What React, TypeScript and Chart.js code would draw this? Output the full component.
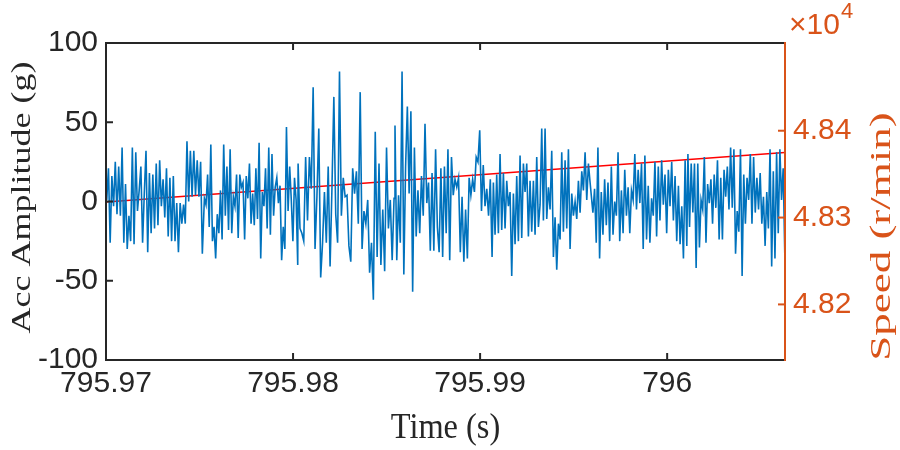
import React, { useEffect, useRef } from "react";
import { Chart, registerables } from "chart.js";

Chart.register(...registerables);

// ---- data ----
// time span covered by each run of samples (s)
const segStart = [795.97004, 795.97526, 795.98027, 795.98545, 795.99071, 795.99603, 796.00111];
const segEnd = [795.97515, 795.98025, 795.9854, 795.99064, 795.99588, 796.00105, 796.00629];

// acceleration amplitude (g), one list per run
const accSeg1 = [1, 21, -26, 16, -3, 25, -8, 22, -9, 34, -26, 11, -30, -9, -25, 34, -27, 31, -6, 7, 22, -26, 5, 32, -32, 18, -20, 17, -17, 24, -15, 26, -3, 14, -10, 21, -22, 15, -25, 16, -25, -1, -32, -1, -14, -2, -14, 38, 0, 32, 3, 32, 4, 26, 3, 25, -33];
const accSeg2 = [2, -2, 17, -16, 36, -25, -16, -36, -8, -20, 7, -24, 36, -9, 22, -18, 33, -20, 3, -3, 17, -23, 17, 9, 12, -24, 16, 2, 24, -14, 5, -15, 21, -11, 37, -36, 6, -3, 21, -17, 34, -21, 30, -9, 9, 15, -1, 10, -37, -16, -30, 47, -6, 22, 1, -25, 15, 1, -40];
const accSeg3 = [24, -17, -20, -25, 28, -12, 28, 8, 72, -30, 3, 46, -48, -26, 6, -26, 22, -41, 9, 66, -8, -26, 82, -9, 15, 3, 4, -28, -38, 21, 5, 19, -14, 69, -30, -6, -14, 1, -45, -26, -62, 44, -35, 24, -40, -5, -44, 34, -17, 1, -37, 2];
const accSeg4 = [48, -37, 4, -26, 82, -46, 22, 60, 5, 57, -57, 34, -22, 7, -20, 16, -9, 49, -1, 12, -31, 18, -31, 33, -16, -32, 21, -35, 22, -20, 33, -37, 28, 4, 14, 9, 15, -32, 3, -38, -5, -36, 15, 4, 14, 6, 28, 25, 45, -6, 23, -3, 8, -9, 14, -35];
const accSeg5 = [12, -21, 17, -20, 30, -18, 18, -17, 13, -3, 6, -47, 5, -27, 16, -25, 29, -23, 24, 6, 24, -22, 13, -19, 13, -21, 28, -16, -2, 46, -12, 46, -11, 9, -5, 32, -35, -10, -43, -14, -24, 31, -19, 26, -17, 33, -30, 5, -9, 0, -11, 13, -7, 19, 7, 31, 1, 24, 12];
const accSeg6 = [-7, 8, -26, 34, -36, 6, -21, 14, -15, 12, -25, 22, -21, 0, -9, 31, -25, 7, -20, 20, -9, 9, -20, 7, 1, 30, -5, 20, -1, 24, -30, 29, -24, 10, -26, 2, -9, 25, -22, 22, -12, 26, -2, 17, -20, 20, -3, 25, -12, 16, -25, 10, -27, -3, -36, 26, -28];
const accSeg7 = [30, -16, 24, -7, 24, -42, 24, -29, 1, -5, 28, -26, 11, -1, 14, -14, 17, -4, 26, -24, 15, -24, 20, 3, 22, -5, 34, -4, 33, -33, -6, -19, 33, -47, 17, -14, 15, 1, 30, -14, 28, -7, 15, -5, 18, -14, 3, -28, 6, -17, 33, -41, 19, -36, 31, -20, 33, 1, 21, -34];

// rotational speed (r/min)
const speedTimes = [795.97, 796.0063];
const speedValues = [48318, 48375];

// axes
const xMin = 795.97;
const xMax = 796.0063;
const xTicks = [795.97, 795.98, 795.99, 796];
const accTicks = [-100, -50, 0, 50, 100];
const speedMin = 48136;
const speedMax = 48501;
const speedTicks = [48200, 48300, 48400];

const accSegments = [accSeg1, accSeg2, accSeg3, accSeg4, accSeg5, accSeg6, accSeg7];

function buildAccPoints() {
  const pts: { x: number; y: number }[] = [];
  accSegments.forEach((seg, s) => {
    const n = seg.length;
    seg.forEach((v, i) => {
      pts.push({ x: segStart[s] + ((segEnd[s] - segStart[s]) * i) / (n - 1), y: v });
    });
  });
  return pts;
}

const DARK = "#262626";
const ORANGE = "#D95319";
const SANS = "'Liberation Sans', Arial, sans-serif";
const SERIF = "'Liberation Serif', 'Times New Roman', serif";

const framePlugin = {
  id: "matlabFrame",
  afterDraw(chart: any) {
    const { ctx, chartArea: a, scales } = chart;
    const tl = 7;
    ctx.save();
    const seg = (x1: number, y1: number, x2: number, y2: number) => {
      ctx.beginPath();
      ctx.moveTo(x1, y1);
      ctx.lineTo(x2, y2);
      ctx.stroke();
    };
    ctx.lineWidth = 2;
    ctx.strokeStyle = DARK;
    ctx.beginPath();
    ctx.moveTo(a.right, a.top);
    ctx.lineTo(a.left, a.top);
    ctx.lineTo(a.left, a.bottom);
    ctx.lineTo(a.right, a.bottom);
    ctx.stroke();
    scales.x.ticks.forEach((t: any) => {
      const px = scales.x.getPixelForValue(t.value);
      seg(px, a.bottom, px, a.bottom - tl);
      seg(px, a.top, px, a.top + tl);
    });
    scales.y.ticks.forEach((t: any) => {
      const py = scales.y.getPixelForValue(t.value);
      seg(a.left, py, a.left + tl, py);
    });
    ctx.strokeStyle = ORANGE;
    seg(a.right, a.top - 1, a.right, a.bottom + 1);
    scales.y1.ticks.forEach((t: any) => {
      const py = scales.y1.getPixelForValue(t.value);
      seg(a.right, py, a.right - tl, py);
    });

    // titles
    ctx.fillStyle = DARK;
    ctx.textAlign = "center";
    ctx.textBaseline = "alphabetic";
    ctx.save();
    ctx.translate((a.left + a.right) / 2, a.bottom + 78);
    ctx.scale(0.9, 1);
    ctx.font = `36px ${SERIF}`;
    ctx.fillText("Time (s)", 0, 0);
    ctx.restore();

    ctx.save();
    ctx.translate(a.left - 83, (a.top + a.bottom) / 2 - 4);
    ctx.rotate(-Math.PI / 2);
    ctx.scale(1, 0.75);
    ctx.textBaseline = "middle";
    ctx.font = `36px ${SERIF}`;
    ctx.fillText("Acc Amplitude (g)", 0, 0);
    ctx.restore();

    ctx.fillStyle = ORANGE;
    ctx.save();
    ctx.translate(a.right + 97, (a.top + a.bottom) / 2 + 35);
    ctx.rotate(-Math.PI / 2);
    ctx.scale(1, 0.66);
    ctx.textBaseline = "middle";
    ctx.font = `45px ${SERIF}`;
    ctx.fillText("Speed (r/min)", 0, 0);
    ctx.restore();

    ctx.textAlign = "left";
    ctx.textBaseline = "alphabetic";
    ctx.font = `30px ${SANS}`;
    ctx.fillText("\u00d710", a.right + 4, a.top - 9);
    const w = ctx.measureText("\u00d710").width;
    ctx.font = `22px ${SANS}`;
    ctx.fillText("4", a.right + 5 + w, a.top - 25);
    ctx.restore();
  },
};

export default function App() {
  const canvasRef = useRef<HTMLCanvasElement | null>(null);

  useEffect(() => {
    document.body.style.margin = "0";
    const canvas = canvasRef.current;
    if (!canvas) return;
    const chart = new Chart(canvas, {
      type: "line",
      data: {
        datasets: [
          {
            label: "Acc",
            data: buildAccPoints(),
            borderColor: "#0072BD",
            borderWidth: 1.6,
            pointRadius: 0,
            tension: 0,
            yAxisID: "y",
          },
          {
            label: "Speed",
            data: speedTimes.map((t, i) => ({ x: t, y: speedValues[i] })),
            borderColor: "#FF0000",
            borderWidth: 1.6,
            pointRadius: 0,
            yAxisID: "y1",
          },
        ],
      },
      options: {
        animation: false,
        responsive: false,
        devicePixelRatio: 1,
        layout: { padding: { top: 43, left: 0, right: 0, bottom: 0 } },
        plugins: { legend: { display: false }, tooltip: { enabled: false } },
        scales: {
          x: {
            type: "linear",
            position: "bottom",
            min: xMin,
            max: xMax,
            grid: { display: false, drawTicks: false },
            border: { display: false },
            afterBuildTicks: (s: any) => {
              s.ticks = xTicks.map((v) => ({ value: v }));
            },
            afterFit: (s: any) => {
              s.height = 90;
            },
            ticks: {
              color: DARK,
              font: { family: SANS, size: 30 },
              padding: 6,
              maxRotation: 0,
              autoSkip: false,
              callback: (v: any) => String(Number(Number(v).toFixed(2))),
            },
          },
          y: {
            position: "left",
            min: -100,
            max: 100,
            grid: { display: false, drawTicks: false },
            border: { display: false },
            afterBuildTicks: (s: any) => {
              s.ticks = accTicks.map((v) => ({ value: v }));
            },
            afterFit: (s: any) => {
              s.width = 106;
            },
            ticks: {
              color: DARK,
              font: { family: SANS, size: 30 },
              padding: 8,
              callback: (v: any) => String(v),
            },
          },
          y1: {
            position: "right",
            min: speedMin,
            max: speedMax,
            grid: { display: false, drawTicks: false },
            border: { display: false },
            afterBuildTicks: (s: any) => {
              s.ticks = speedTicks.map((v) => ({ value: v }));
            },
            afterFit: (s: any) => {
              s.width = 115;
            },
            ticks: {
              color: ORANGE,
              font: { family: SANS, size: 30 },
              padding: 8,
              callback: (v: any) => (Number(v) / 1e4).toFixed(2),
            },
          },
        },
      },
      plugins: [framePlugin],
    } as any);
    return () => chart.destroy();
  }, []);

  return (
    <div style={{ width: 900, height: 450, background: "#fff" }}>
      <canvas ref={canvasRef} width={900} height={450} />
    </div>
  );
}
